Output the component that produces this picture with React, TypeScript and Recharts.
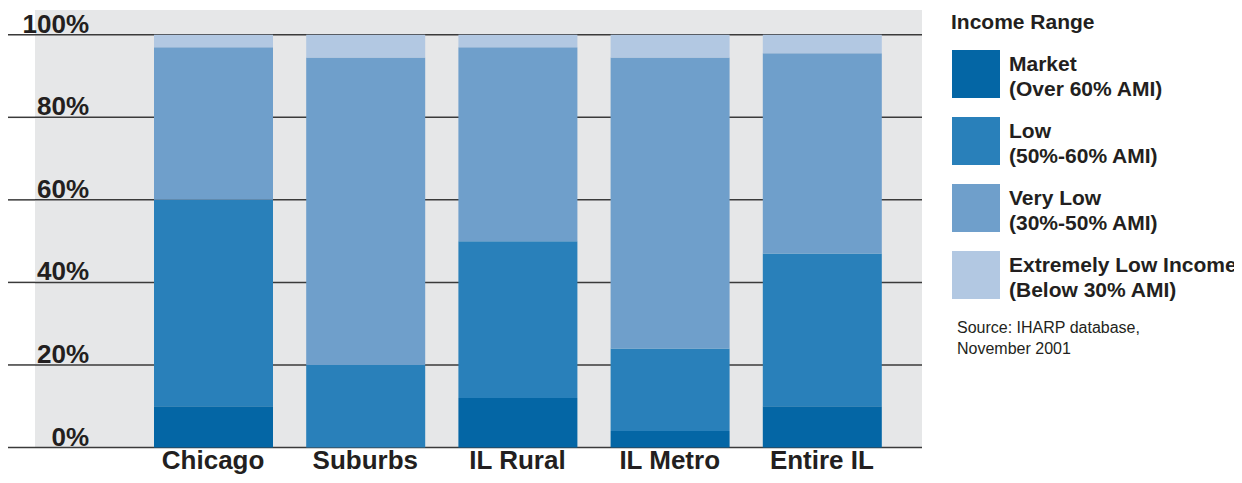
import React from 'react';
import { BarChart, Bar, XAxis, YAxis, CartesianGrid } from 'recharts';

// Share of assisted units by income range, per region (percent of units)
const regions = ['Chicago', 'Suburbs', 'IL Rural', 'IL Metro', 'Entire IL'];
const market = [10, 0, 12, 4, 10];
const low = [50, 20, 38, 20, 37];
const veryLow = [37, 74.5, 47, 70.5, 48.5];
const extremelyLow = [3, 5.5, 3, 5.5, 4.5];

const yTicks = [0, 20, 40, 60, 80, 100];

const seriesKeys = ['market', 'low', 'veryLow', 'extremelyLow'];
const seriesNames = ['Market', 'Low', 'Very Low', 'Extremely Low Income'];
const seriesRanges = ['(Over 60% AMI)', '(50%-60% AMI)', '(30%-50% AMI)', '(Below 30% AMI)'];
const seriesColors = ['#0466A5', '#2980BA', '#6F9FCB', '#B2C8E2'];

const data = regions.map((region, i) => ({
  region,
  market: market[i],
  low: low[i],
  veryLow: veryLow[i],
  extremelyLow: extremelyLow[i],
}));

const INK = '#231F20';
const GRID = '#3A3A3A';
const FONT = '"Liberation Sans", Arial, Helvetica, sans-serif';

const YTick = (props: any) => {
  const { y, payload } = props;
  return (
    <g>
      <line x1={0} x2={27} y1={y} y2={y} stroke={GRID} strokeWidth={1.5} />
      <text x={81} y={y - 2} textAnchor="end" fontFamily={FONT} fontWeight={700} fontSize={26} fill={INK}>
        {payload.value}%
      </text>
    </g>
  );
};

const XTick = (props: any) => {
  const { x, y, payload } = props;
  return (
    <text x={x} y={y} dy={21.5} textAnchor="middle" fontFamily={FONT} fontWeight={700} fontSize={26} fill={INK}>
      {payload.value}
    </text>
  );
};

export default function App() {
  return (
    <div style={{ position: 'relative', width: 1234, height: 467, overflowX: 'clip', fontFamily: FONT, color: INK }}>
      <BarChart width={914} height={467} data={data} margin={{ top: 2, right: 0, bottom: 0, left: 0 }}>
        <CartesianGrid
          vertical={false}
          horizontalValues={yTicks}
          fill="#E6E7E8"
          stroke={GRID}
          strokeWidth={1.5}
          strokeOpacity={1}
        />
        <XAxis
          dataKey="region"
          height={27.5}
          axisLine={false}
          tickLine={false}
          tickSize={0}
          tickMargin={0}
          padding={{ left: 102, right: 24 }}
          tick={<XTick />}
          interval={0}
        />
        <YAxis
          type="number"
          width={27}
          domain={[0, 106]}
          ticks={yTicks}
          axisLine={false}
          tickLine={false}
          tick={<YTick />}
          interval={0}
        />
        {seriesKeys.map((key, i) => (
          <Bar key={key} dataKey={key} stackId="income" fill={seriesColors[i]} barSize={119} isAnimationActive={false} />
        ))}
      </BarChart>

      <div style={{ position: 'absolute', left: 943, top: 2.5, fontSize: 21, lineHeight: '21px', fontWeight: 700, whiteSpace: 'nowrap' }}>
        Income Range
      </div>
      {seriesKeys.map((key, i) => (
        <div key={key} style={{ position: 'absolute', left: 944, top: 42 + i * 67, whiteSpace: 'nowrap' }}>
          <div style={{ position: 'absolute', left: 0, top: 0, width: 48, height: 48, background: seriesColors[i] }} />
          <div style={{ position: 'absolute', left: 57, top: 0.5, fontSize: 21, lineHeight: '25px', fontWeight: 700 }}>
            <div>{seriesNames[i]}</div>
            <div>{seriesRanges[i]}</div>
          </div>
        </div>
      ))}
      <div style={{ position: 'absolute', left: 949, top: 309, fontSize: 16, lineHeight: '21px', fontWeight: 400, whiteSpace: 'nowrap' }}>
        <div>Source: IHARP database,</div>
        <div>November 2001</div>
      </div>
    </div>
  );
}
